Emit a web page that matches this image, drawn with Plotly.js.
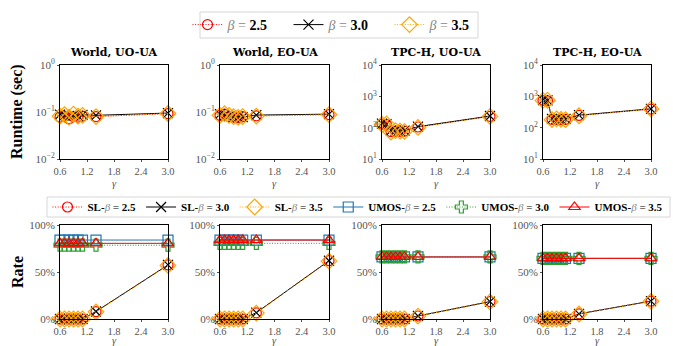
<!DOCTYPE html>
<html>
<head>
<meta charset="utf-8">
<script src="https://cdn.plot.ly/plotly-3.0.1.min.js"></script>
<style>html,body{margin:0;padding:0;background:#fff;}#chart{width:673px;height:346px;}</style>
</head>
<body>
<div id="chart"></div>
<script>
// ---- data ----
const gamma = [0.6, 0.7, 0.8, 0.9, 1.0, 1.1, 1.4, 3.0];
const panelTitles = ["World, UO-UA", "World, EO-UA", "TPC-H, UO-UA", "TPC-H, EO-UA"];
const betaLabels = ["2.5", "3.0", "3.5"];

// Runtime (sec), per panel, per beta
const runtimeWorldUO_b25 = [0.078, 0.082, 0.072, 0.080, 0.078, 0.082, 0.080, 0.092];
const runtimeWorldUO_b30 = [0.088, 0.085, 0.080, 0.085, 0.083, 0.087, 0.085, 0.095];
const runtimeWorldUO_b35 = [0.082, 0.088, 0.078, 0.090, 0.082, 0.085, 0.080, 0.093];
const runtimeWorldEO_b25 = [0.085, 0.090, 0.080, 0.078, 0.076, 0.080, 0.083, 0.088];
const runtimeWorldEO_b30 = [0.090, 0.085, 0.082, 0.080, 0.078, 0.078, 0.086, 0.090];
const runtimeWorldEO_b35 = [0.085, 0.092, 0.085, 0.080, 0.077, 0.080, 0.082, 0.088];
const runtimeTpchUO_b25 = [130, 125, 75, 78, 76, 78, 105, 230];
const runtimeTpchUO_b30 = [135, 130, 80, 80, 78, 80, 108, 235];
const runtimeTpchUO_b35 = [128, 132, 72, 80, 78, 76, 102, 228];
const runtimeTpchEO_b25 = [750, 720, 185, 185, 180, 185, 245, 390];
const runtimeTpchEO_b30 = [760, 740, 190, 190, 185, 190, 250, 400];
const runtimeTpchEO_b35 = [740, 750, 180, 190, 185, 180, 240, 395];

// Rate (%), SL and UMOS, per panel, per beta
const slWorldUO_b25 = [0, 0, 0, 0, 0, 0, 7.8, 57.5];
const slWorldUO_b30 = [0, 0, 0, 0, 0, 0, 8.0, 57.5];
const slWorldUO_b35 = [0, 0, 0, 0, 0, 0, 7.6, 57.0];
const umosWorldUO_b25 = [84, 84, 84, 84, 84, 84, 84, 84];
const umosWorldUO_b30 = [78.5, 78.5, 78.5, 78.5, 78.5, 78.5, 78.5, 78.5];
const umosWorldUO_b35 = [80.5, 80.5, 80.5, 80.5, 80.5, 80.5, 80.5, 80.5];

const slWorldEO_b25 = [0, 0, 0, 0, 0, 0, 6.5, 62];
const slWorldEO_b30 = [0, 0, 0, 0, 0, 0, 6.7, 62];
const slWorldEO_b35 = [0, 0, 0, 0, 0, 0, 6.3, 61.5];
const umosWorldEO_b25 = [84, 84, 84, 84, 84, 84, 84, 84];
const umosWorldEO_b30 = [80.5, 80.5, 80.5, 80.5, 80.5, 80.5, 80.5, 80.5];
const umosWorldEO_b35 = [84, 84, 84, 84, 84, 84, 84, 84];

const slTpchUO_b25 = [0, 0, 0, 0, 0, 0, 3.2, 18.5];
const slTpchUO_b30 = [0, 0, 0, 0, 0, 0, 3.2, 18.5];
const slTpchUO_b35 = [0, 0, 0, 0, 0, 0, 3.0, 18.3];
const umosTpchUO_b25 = [66, 66, 66, 66, 66, 66, 66, 66];
const umosTpchUO_b30 = [66, 66, 66, 66, 66, 66, 66, 66];
const umosTpchUO_b35 = [66, 66, 66, 66, 66, 66, 66, 66];

const slTpchEO_b25 = [0, 0, 0, 0, 0, 0, 5.5, 19];
const slTpchEO_b30 = [0, 0, 0, 0, 0, 0, 5.5, 19];
const slTpchEO_b35 = [0, 0, 0, 0, 0, 0, 5.3, 18.8];
const umosTpchEO_b25 = [64.5, 64.5, 64.5, 64.5, 64.5, 64.5, 64.5, 64.5];
const umosTpchEO_b30 = [64.5, 64.5, 64.5, 64.5, 64.5, 64.5, 64.5, 64.5];
const umosTpchEO_b35 = [64.5, 64.5, 64.5, 64.5, 64.5, 64.5, 64.5, 64.5];

const xTickVals = [0.6, 1.2, 1.8, 2.4, 3.0];
const xTickText = ["0.6", "1.2", "1.8", "2.4", "3.0"];
const rateTickVals = [0, 50, 100];
const rateTickText = ["0%", "50%", "100%"];

// ---- layout helpers ----
const W = 673, H = 346;
const FONT = "Liberation Serif";
const colX = [[60, 168], [220, 329], [382, 490], [543, 651]];
const topRow = [65, 159], botRow = [225, 319];
const xd = c => [colX[c][0] / W, colX[c][1] / W];
const yd = r => [1 - r[1] / H, 1 - r[0] / H];

const runtimeData = [
  [runtimeWorldUO_b25, runtimeWorldUO_b30, runtimeWorldUO_b35],
  [runtimeWorldEO_b25, runtimeWorldEO_b30, runtimeWorldEO_b35],
  [runtimeTpchUO_b25, runtimeTpchUO_b30, runtimeTpchUO_b35],
  [runtimeTpchEO_b25, runtimeTpchEO_b30, runtimeTpchEO_b35]
];
const slData = [
  [slWorldUO_b25, slWorldUO_b30, slWorldUO_b35],
  [slWorldEO_b25, slWorldEO_b30, slWorldEO_b35],
  [slTpchUO_b25, slTpchUO_b30, slTpchUO_b35],
  [slTpchEO_b25, slTpchEO_b30, slTpchEO_b35]
];
const umosData = [
  [umosWorldUO_b25, umosWorldUO_b30, umosWorldUO_b35],
  [umosWorldEO_b25, umosWorldEO_b30, umosWorldEO_b35],
  [umosTpchUO_b25, umosTpchUO_b30, umosTpchUO_b35],
  [umosTpchEO_b25, umosTpchEO_b30, umosTpchEO_b35]
];

const DOT = "1px,1.6px";
const slStyles = [
  {color: "#ff0000", dash: DOT, symbol: "circle-open", size: 10},
  {color: "#000000", dash: "solid", symbol: "x-thin-open", size: 10},
  {color: "#ffa500", dash: DOT, symbol: "diamond-open", size: 12}
];
const umosStyles = [
  {color: "#1f77b4", dash: "solid", symbol: "square-open", size: 10},
  {color: "#2ca02c", dash: DOT, symbol: "cross-open", size: 10},
  {color: "#ff0000", dash: "solid", symbol: "triangle-up-open", size: 10}
];

const grey = "<span style='color:#888'>";
const traces = [];
function mk(x, y, st, xa, ya, name, showlegend, legend) {
  return {
    x: x, y: y, type: "scatter", mode: "lines+markers", xaxis: xa, yaxis: ya,
    name: name, showlegend: showlegend, legend: legend, cliponaxis: false,
    line: {color: st.color, dash: st.dash, width: 1},
    marker: {symbol: st.symbol, size: st.size, color: st.color, line: {color: st.color, width: 1.2}}
  };
}

for (let c = 0; c < 4; c++) {
  const xa = "x" + (c + 1), ya = "y" + (c + 1);
  for (let b = 0; b < 3; b++) {
    traces.push(mk(gamma, runtimeData[c][b], slStyles[b], xa, ya,
      grey + "<i>β</i> =</span> <b>" + betaLabels[b] + "</b>", c === 0, "legend"));
  }
}
for (let c = 0; c < 4; c++) {
  const xa = "x" + (c + 5), ya = "y" + (c + 5);
  for (let b = 0; b < 3; b++) {
    traces.push(mk(gamma, slData[c][b], slStyles[b], xa, ya,
      "<b>SL-</b>" + grey + "<i>β</i></span> = <b>" + betaLabels[b] + "</b>", c === 0, "legend2"));
  }
  for (let b = 0; b < 3; b++) {
    traces.push(mk(gamma, umosData[c][b], umosStyles[b], xa, ya,
      "<b>UMOS-</b>" + grey + "<i>β</i></span> = <b>" + betaLabels[b] + "</b>", c === 0, "legend2"));
  }
}

const layout = {
  width: W, height: H,
  margin: {l: 0, r: 0, t: 0, b: 0},
  paper_bgcolor: "#fff", plot_bgcolor: "#fff",
  font: {family: FONT, size: 11, color: "#000"},
  legend: {
    orientation: "h", x: 339 / W, xanchor: "center", y: 1 - 25 / H, yanchor: "middle",
    bgcolor: "rgba(0,0,0,0)", borderwidth: 0, font: {family: FONT, size: 14, color: "#000"},
    tracegroupgap: 0, itemwidth: 30, entrywidth: 56, entrywidthmode: "pixels"
  },
  legend2: {
    orientation: "h", x: 358 / W, xanchor: "center", y: 1 - 207 / H, yanchor: "middle",
    bgcolor: "rgba(0,0,0,0)", borderwidth: 0, font: {family: FONT, size: 11, color: "#000"},
    tracegroupgap: 0, itemwidth: 30
  },
  shapes: [
    {type: "rect", xref: "paper", yref: "paper", x0: 200 / W, x1: 478 / W, y0: 1 - 38 / H, y1: 1 - 12 / H,
     line: {color: "#d6d6d6", width: 1}, fillcolor: "rgba(255,255,255,0)", layer: "below"},
    {type: "rect", xref: "paper", yref: "paper", x0: 47 / W, x1: 670 / W, y0: 1 - 217 / H, y1: 1 - 197 / H,
     line: {color: "#d6d6d6", width: 1}, fillcolor: "rgba(255,255,255,0)", layer: "below"}
  ],
  annotations: [],
  showlegend: true
};

const axisCommon = {
  showgrid: false, zeroline: false, showline: true, linecolor: "#000", linewidth: 1, mirror: true,
  ticks: "outside", ticklen: 2, tickcolor: "#555", tickfont: {family: FONT, size: 11, color: "#555"}
};

for (let i = 0; i < 8; i++) {
  const c = i % 4, top = i < 4;
  const n = i + 1;
  layout["xaxis" + n] = Object.assign({}, axisCommon, {
    domain: xd(c), anchor: "y" + n, range: [0.6, 3.0],
    tickmode: "array", tickvals: xTickVals, ticktext: xTickText,
    tickfont: {family: FONT, size: 10.5, color: "#555"}
  });
  if (top) {
    const lo = c < 2 ? -2 : 1, hi = c < 2 ? 0 : 4;
    const tv = [], tt = [];
    for (let e = lo; e <= hi; e++) { tv.push(Math.pow(10, e)); tt.push("10<sup>" + (e < 0 ? "−" + (-e) : e) + "</sup>"); }
    layout["yaxis" + n] = Object.assign({}, axisCommon, {
      domain: yd(topRow), anchor: "x" + n, type: "log", range: [lo, hi],
      tickmode: "array", tickvals: tv, ticktext: tt
    });
  } else {
    layout["yaxis" + n] = Object.assign({}, axisCommon, {
      domain: yd(botRow), anchor: "x" + n, range: [0, 100],
      tickmode: "array", tickvals: rateTickVals, ticktext: rateTickText
    });
  }
  // gamma labels
  layout.annotations.push({
    text: "<i>γ</i>", xref: "paper", yref: "paper", showarrow: false,
    x: (colX[c][0] + colX[c][1]) / 2 / W, y: 1 - (top ? 184 : 340) / H,
    xanchor: "center", yanchor: "middle", borderpad: 0,
    font: {family: FONT, size: 10.5, color: "#555"}
  });
}
for (let c = 0; c < 4; c++) {
  layout.annotations.push({
    text: "<b>" + panelTitles[c] + "</b>", xref: "paper", yref: "paper", showarrow: false,
    x: (colX[c][0] + colX[c][1]) / 2 / W, y: 1 - 52 / H, xanchor: "center", yanchor: "middle",
    font: {family: "DejaVu Serif", size: 11, color: "#000"}
  });
}
layout.annotations.push({
  text: "<b>Runtime (sec)</b>", xref: "paper", yref: "paper", showarrow: false,
  x: 17 / W, y: 1 - 112 / H, xanchor: "center", yanchor: "middle", textangle: -90,
  font: {family: FONT, size: 16, color: "#000"}
});
layout.annotations.push({
  text: "<b>Rate</b>", xref: "paper", yref: "paper", showarrow: false,
  x: 17 / W, y: 1 - 272 / H, xanchor: "center", yanchor: "middle", textangle: -90,
  font: {family: FONT, size: 16, color: "#000"}
});

Plotly.newPlot("chart", traces, layout, {displayModeBar: false, staticPlot: true});
</script>
</body>
</html>
